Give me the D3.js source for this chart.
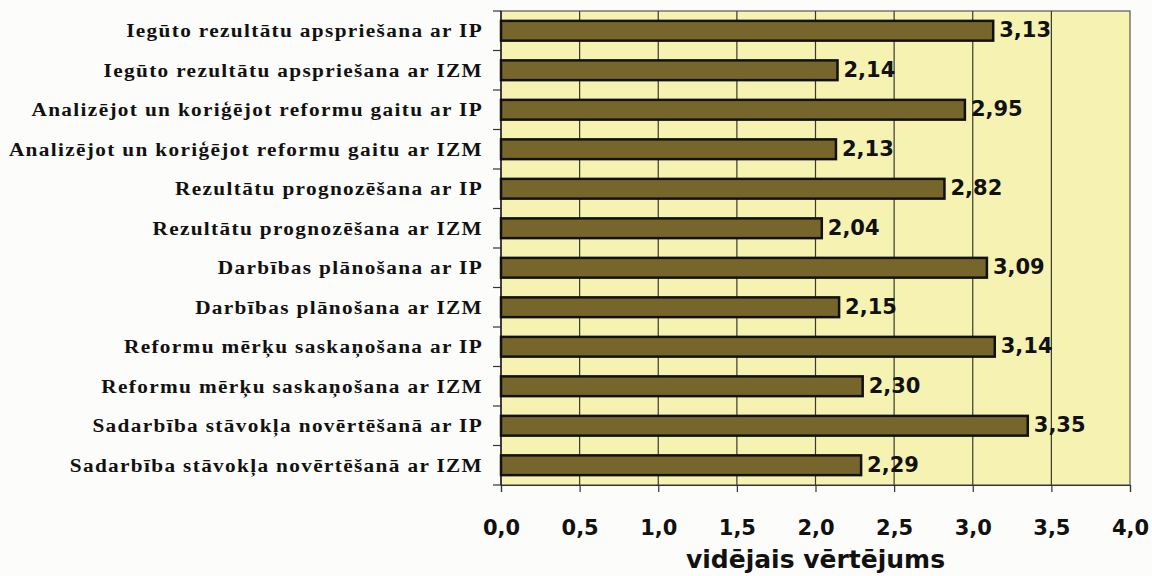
<!DOCTYPE html>
<html>
<head>
<meta charset="utf-8">
<script src="https://cdn.jsdelivr.net/npm/d3@7"></script>
<style>
  html, body { margin: 0; padding: 0; background: #fcfcfb; }
  svg { display: block; }
</style>
</head>
<body>
<svg id="chart" width="1152" height="576"></svg>
<script>
// Average rating per cooperation activity (IP / IZM)
const categories = [
  "Iegūto rezultātu apspriešana ar IP",
  "Iegūto rezultātu apspriešana ar IZM",
  "Analizējot un koriģējot reformu gaitu ar IP",
  "Analizējot un koriģējot reformu gaitu ar IZM",
  "Rezultātu prognozēšana ar IP",
  "Rezultātu prognozēšana ar IZM",
  "Darbības plānošana ar IP",
  "Darbības plānošana ar IZM",
  "Reformu mērķu saskaņošana ar IP",
  "Reformu mērķu saskaņošana ar IZM",
  "Sadarbība stāvokļa novērtēšanā ar IP",
  "Sadarbība stāvokļa novērtēšanā ar IZM"
];
const values = [3.13, 2.14, 2.95, 2.13, 2.82, 2.04, 3.09, 2.15, 3.14, 2.30, 3.35, 2.29];
const xTicks = [0, 0.5, 1, 1.5, 2, 2.5, 3, 3.5, 4];
const axisTitle = "vidējais vērtējums";

const svg = d3.select("#chart");
const plot = { left: 501, right: 1130, top: 11, bottom: 485 };

const x = d3.scaleLinear().domain([0, 4]).range([plot.left, plot.right]);
const y = d3.scaleBand().domain(categories).range([plot.top, plot.bottom]).paddingInner(0.5).paddingOuter(0.25);
const fmt = v => d3.format(".2f")(v).replace(".", ",");
const fmtTick = v => d3.format(".1f")(v).replace(".", ",");

// plot background
svg.append("rect")
  .attr("x", plot.left).attr("y", plot.top)
  .attr("width", plot.right - plot.left).attr("height", plot.bottom - plot.top)
  .attr("fill", "#f6f2b2").attr("stroke", "#555").attr("stroke-width", 1.2);

// vertical grid lines
svg.append("g").selectAll("line")
  .data(xTicks.slice(1, -1))
  .join("line")
  .attr("x1", d => x(d)).attr("x2", d => x(d))
  .attr("y1", plot.top).attr("y2", plot.bottom)
  .attr("stroke", "#3a3a2a").attr("stroke-width", 1.2);

// bottom axis
const xAxis = svg.append("g")
  .attr("transform", `translate(0,${plot.bottom})`)
  .call(d3.axisBottom(x).tickValues(xTicks).tickFormat(fmtTick).tickSize(7).tickPadding(28));
xAxis.select(".domain").attr("stroke", "#333").attr("stroke-width", 1.2);
xAxis.selectAll(".tick line").attr("stroke", "#333").attr("stroke-width", 1.2);
xAxis.selectAll(".tick text")
  .attr("font-family", "DejaVu Sans, sans-serif")
  .attr("font-weight", "bold")
  .attr("font-size", 21)
  .attr("fill", "#111");

// left axis: ticks on category boundaries
const boundaries = d3.range(categories.length + 1).map(i => plot.top + i * (plot.bottom - plot.top) / categories.length);
svg.append("g").selectAll("line")
  .data(boundaries)
  .join("line")
  .attr("x1", plot.left - 8).attr("x2", plot.left)
  .attr("y1", d => d).attr("y2", d => d)
  .attr("stroke", "#333").attr("stroke-width", 1.2);
svg.append("line")
  .attr("x1", plot.left).attr("x2", plot.left)
  .attr("y1", plot.top).attr("y2", plot.bottom)
  .attr("stroke", "#222").attr("stroke-width", 1.5);

// category labels (slightly widened serif bold)
svg.append("g").selectAll("text")
  .data(categories)
  .join("text")
  .attr("transform", d => `translate(483,${y(d) + y.bandwidth() / 2}) scale(1.12,1)`)
  .attr("dy", "0.35em")
  .attr("text-anchor", "end")
  .attr("font-family", "Liberation Serif, Times New Roman, serif")
  .attr("font-weight", "bold")
  .attr("font-size", 19)
  .attr("letter-spacing", 1.2)
  .attr("fill", "#111")
  .text(d => d);

// bars
svg.append("g").selectAll("rect")
  .data(values)
  .join("rect")
  .attr("x", x(0))
  .attr("y", (d, i) => y(categories[i]))
  .attr("width", d => x(d) - x(0))
  .attr("height", y.bandwidth())
  .attr("fill", "#77662c")
  .attr("stroke", "#111")
  .attr("stroke-width", 2.5);

// value labels
svg.append("g").selectAll("text")
  .data(values)
  .join("text")
  .attr("x", d => x(d) + 6)
  .attr("y", (d, i) => y(categories[i]) + y.bandwidth() / 2)
  .attr("dy", "0.3em")
  .attr("font-family", "DejaVu Sans, sans-serif")
  .attr("font-weight", "bold")
  .attr("font-size", 21)
  .attr("fill", "#111")
  .text(fmt);

// axis title
svg.append("text")
  .attr("x", (plot.left + plot.right) / 2)
  .attr("y", 568)
  .attr("text-anchor", "middle")
  .attr("font-family", "DejaVu Sans, sans-serif")
  .attr("font-weight", "bold")
  .attr("font-size", 25)
  .attr("fill", "#111")
  .text(axisTitle);
</script>
</body>
</html>
